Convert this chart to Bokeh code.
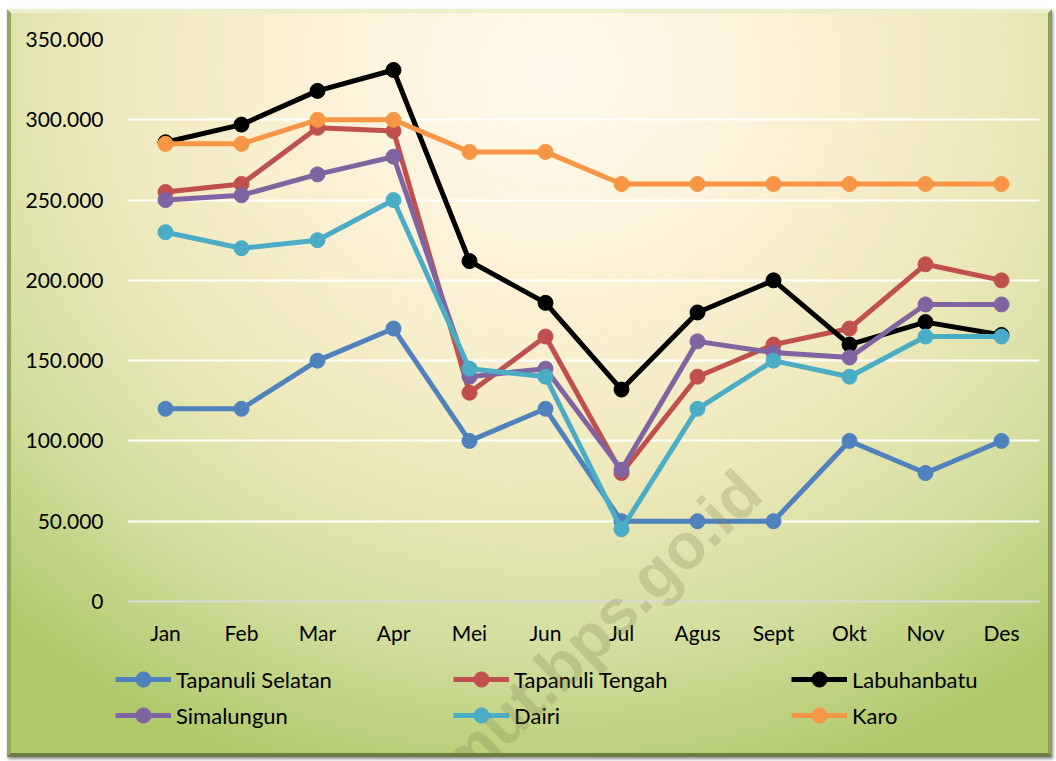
from bokeh.plotting import figure
from bokeh.models import (FactorRange, Range1d, SingleIntervalTicker, CustomJSTickFormatter,
                          Legend, LegendItem, Column, Div)
from bokeh.embed import file_html
from bokeh.resources import INLINE

months = ["Jan", "Feb", "Mar", "Apr", "Mei", "Jun", "Jul", "Agus", "Sept", "Okt", "Nov", "Des"]

tapanuli_selatan = [120000, 120000, 150000, 170000, 100000, 120000, 50000, 50000, 50000, 100000, 80000, 100000]
tapanuli_tengah = [255000, 260000, 295000, 293000, 130000, 165000, 80000, 140000, 160000, 170000, 210000, 200000]
labuhanbatu = [286000, 297000, 318000, 331000, 212000, 186000, 132000, 180000, 200000, 160000, 174000, 166000]
simalungun = [250000, 253000, 266000, 277000, 140000, 145000, 82000, 162000, 155000, 152000, 185000, 185000]
dairi = [230000, 220000, 225000, 250000, 145000, 140000, 45000, 120000, 150000, 140000, 165000, 165000]
karo = [285000, 285000, 300000, 300000, 280000, 280000, 260000, 260000, 260000, 260000, 260000, 260000]

series_names = ["Tapanuli Selatan", "Tapanuli Tengah", "Labuhanbatu", "Simalungun", "Dairi", "Karo"]
series_values = [tapanuli_selatan, tapanuli_tengah, labuhanbatu, simalungun, dairi, karo]
series_colors = ["#4F81BD", "#C0504D", "#000000", "#8064A2", "#4BACC6", "#F79646"]

FONT = "Lato"

# ---- main chart ----
p = figure(x_range=FactorRange(*months, range_padding=0), y_range=Range1d(0, 350000),
           width=1037, height=638, output_backend="svg", toolbar_location=None,
           min_border_left=116, min_border_right=9, min_border_top=26, min_border_bottom=50)
p.frame_align = False

p.background_fill_alpha = 0
p.border_fill_alpha = 0
p.outline_line_color = None

p.xgrid.grid_line_color = None
p.ygrid.grid_line_color = "#FFFFFF"
p.ygrid.grid_line_width = 2
p.ygrid.ticker = SingleIntervalTicker(interval=50000)

p.yaxis.ticker = SingleIntervalTicker(interval=50000)
p.yaxis.formatter = CustomJSTickFormatter(code="""
    return Math.round(tick).toString().replace(/\\B(?=(\\d{3})+(?!\\d))/g, ".");
""")
for ax in (p.xaxis, p.yaxis):
    ax.major_tick_line_color = None
    ax.minor_tick_line_color = None
    ax.major_label_text_font = FONT
    ax.major_label_text_font_size = "21px"
    ax.major_label_text_color = "#000000"
p.yaxis.axis_line_color = None
p.yaxis.major_label_standoff = 18
p.xaxis.axis_line_color = "#D9D9D9"
p.xaxis.axis_line_width = 2
p.xaxis.major_label_standoff = 12

for name, vals, col in zip(series_names, series_values, series_colors):
    p.line(months, vals, line_color=col, line_width=5)
    p.scatter(months, vals, size=15, fill_color=col, line_color=col)

# ---- legend strip: same series, ranges chosen so only the legend shows ----
lg = figure(width=1037, height=102, output_backend="svg", toolbar_location=None,
            x_axis_type=None, y_axis_type=None,
            x_range=FactorRange(*months, range_padding=0), y_range=Range1d(-2, -1),
            min_border_left=0, min_border_right=0, min_border_top=0, min_border_bottom=0)
lg.frame_align = False
lg.background_fill_alpha = 0
lg.border_fill_alpha = 0
lg.outline_line_color = None
lg.grid.visible = False

items = []
for name, vals, col in zip(series_names, series_values, series_colors):
    ln = lg.line(months, vals, line_color=col, line_width=5)
    sc = lg.scatter(months, vals, size=15, fill_color=col, line_color=col)
    items.append(LegendItem(label=name, renderers=[ln, sc]))

legend_style = dict(orientation="horizontal", glyph_width=56, glyph_height=38, label_height=24,
                    label_standoff=5, label_width=266, spacing=11, padding=0, margin=0,
                    border_line_color=None, background_fill_alpha=0, label_text_font=FONT,
                    label_text_font_size="22px", label_text_color="#000000",
                    label_text_baseline="middle")
legend1 = Legend(items=items[:3], location=(104, 55), **legend_style)
legend2 = Legend(items=items[3:], location=(104, 19), **legend_style)
lg.add_layout(legend1, "center")
lg.add_layout(legend2, "center")

watermark = Div(text="https://sumut.bps.go.id", styles={
    "position": "absolute",
    "right": "293px",
    "top": "432px",
    "line-height": "64px",
    "font-family": "Liberation Sans",
    "font-weight": "bold",
    "font-size": "64px",
    "color": "rgba(120,120,80,0.24)",
    "white-space": "nowrap",
    "transform-origin": "100% 50%",
    "transform": "rotate(-44deg)",
    "pointer-events": "none",
})

layout = Column(children=[p, lg, watermark], spacing=0, styles={
    "position": "relative",
    "overflow": "hidden",
    "margin-left": "7px",
    "margin-top": "9px",
    "background": "radial-gradient(ellipse 78% 100% at 52% 8%, #FFFAEC 0%, #FCF2D8 28%, #EEE9BC 55%, #D3DE9E 78%, #AFC96B 100%)",
    "border-style": "solid",
    "border-width": "4px",
    "border-color": "#EAF0CC #8A9E58 #6E7C48 #93A85E",
    "box-shadow": "1px 2px 3px rgba(0,0,0,0.45)",
})

open("out.html", "w").write(file_html(layout, INLINE))
